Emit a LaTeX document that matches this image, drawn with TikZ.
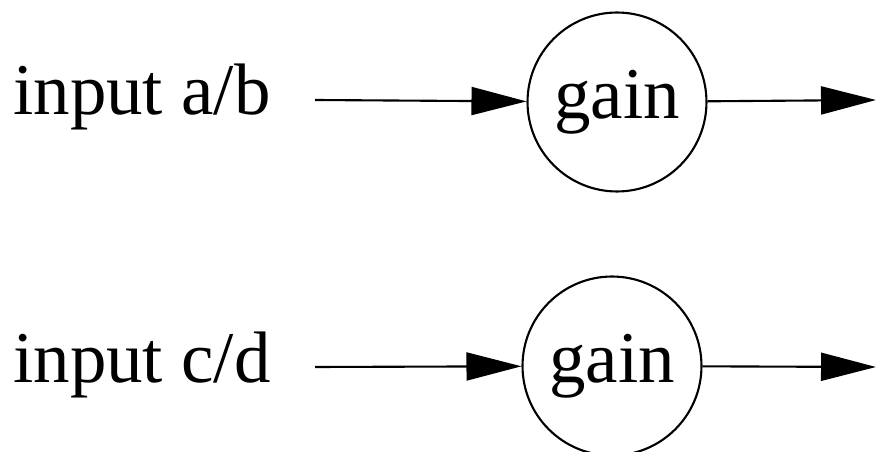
\documentclass[tikz,border=0pt]{standalone}
\usepackage{fontspec}
\setmainfont{Liberation Serif}
\usetikzlibrary{arrows.meta, positioning}

\tikzset{
  label/.style={inner sep=0pt, anchor=base west, font=\fontsize{41.5}{48}\selectfont},
  gainnode/.style={draw, circle, line width=1.2pt, minimum size=3.58cm, inner sep=0pt,
                   font=\fontsize{41.5}{48}\selectfont},
  flow/.style={line width=1.2pt, -{Triangle[length=1.1cm, width=0.56cm]}}
}

\begin{document}
\begin{tikzpicture}[x=0.02cm, y=-0.02cm]
\useasboundingbox (0,0) rectangle (876,452);

% upper path
      \node[label] (inAB) at (13,115) {input a/b};
      \node[gainnode] (gainAB) at (617,102) {gain};
      \coordinate (srcAB) at (315,100);
      \coordinate (outAB) at (876,100);

% lower path
      \node[label] (inCD) at (13,383) {input c/d};
      \node[gainnode] (gainCD) at (612,366) {gain};
      \coordinate (srcCD) at (315,367);
      \coordinate (outCD) at (876,367);

% Arrows
      \draw[flow] (srcAB) -- (gainAB);
      \draw[flow] (gainAB) -- (outAB);
      \draw[flow] (srcCD) -- (gainCD);
      \draw[flow] (gainCD) -- (outCD);

\end{tikzpicture}
\end{document}
